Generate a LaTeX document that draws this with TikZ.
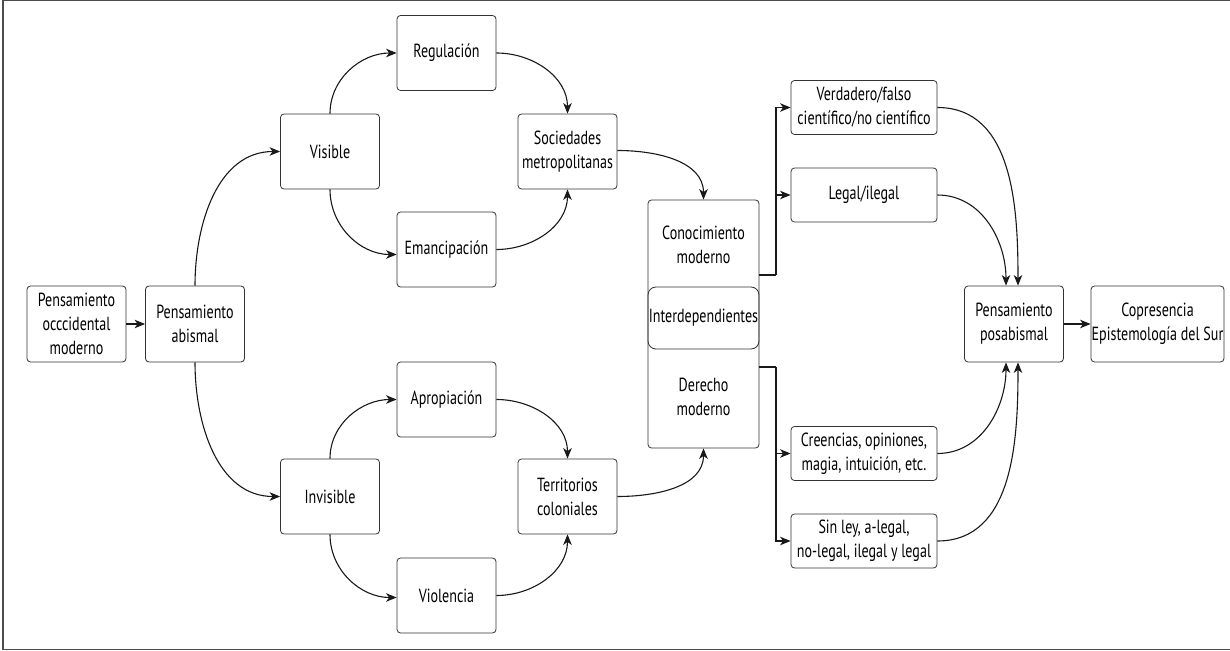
\documentclass[tikz,border=0pt]{standalone}
\usepackage{fontspec}
\setmainfont{PT Sans}[FakeStretch=0.74]
\usetikzlibrary{arrows.meta}
\begin{document}
\begin{tikzpicture}[x=1bp,y=-1bp,
  font=\fontsize{19bp}{24bp}\selectfont,
  box/.style={draw=black!80, line width=0.8bp, rounded corners=3.5bp,
    align=center, inner sep=0pt, minimum width=99bp, minimum height=76bp},
  wide/.style={box, minimum width=146bp, minimum height=54bp},
  link/.style={draw=black!90, line width=1.1bp,
    -{Stealth[length=10.5bp,width=8.5bp,inset=3bp]}},
  plain/.style={draw=black!90, line width=1.1bp}]
\useasboundingbox (0,0) rectangle (1230,651);
% outer frame
\draw[black!70, line width=1.3bp] (1231,0.8) -- (3,0.8) -- (3,649.4) -- (1231,649.4);

% left chain
\node[box] (occ) at (76.5,324) {Pensamiento\\occcidental\\moderno};
\node[box] (abi) at (195,324) {Pensamiento\\abismal};
\node[box, minimum height=75bp] (vis) at (330,151.5) {Visible};
\node[box, minimum height=75bp] (inv) at (330,496.5) {Invisible};
\node[box, minimum height=75bp] (reg) at (446.5,53) {Regulación};
\node[box, minimum height=75bp] (ema) at (446.5,249.5) {Emancipación};
\node[box, minimum height=75bp] (apr) at (446.5,399.5) {Apropiación};
\node[box, minimum height=75bp] (vio) at (446.5,595.5) {Violencia};
\node[box, minimum height=75bp] (soc) at (567.5,151.5) {Sociedades\\metropolitanas};
\node[box, minimum height=75bp] (ter) at (567.5,496.5) {Territorios\\coloniales};

% central block
\node[box, minimum width=111bp, minimum height=248bp] (mod) at (703.5,324) {};
\node[align=center] (con) at (703.5,245) {Conocimiento\\moderno};
\node[align=center] (der) at (703.5,397) {Derecho\\moderno};
\node[draw=black!80, line width=0.8bp, rounded corners=8bp, inner sep=0pt,
  minimum width=111bp, minimum height=62bp] (int) at (703.5,318) {Interdependientes};

% right column
\node[wide] (ver) at (864,107.5) {Verdadero/falso\\científico/no científico};
\node[wide] (leg) at (864,195) {Legal/ilegal};
\node[wide] (cre) at (864,453.5) {Creencias, opiniones,\\magia, intuición, etc.};
\node[wide] (sin) at (864,541) {Sin ley, a-legal,\\no-legal, ilegal y legal};
\node[box] (pos) at (1014,324) {Pensamiento\\posabismal};
\node[box, minimum width=133bp] (cop) at (1157.5,324) {Copresencia\\Epistemología del Sur};

% connectors
\draw[link] (occ) -- (abi);
\draw[link] (abi.north) to[out=90,in=180] (vis.west);
\draw[link] (abi.south) to[out=-90,in=180] (inv.west);
\draw[link] (vis.north) to[out=90,in=180] (reg.west);
\draw[link] (vis.south) to[out=-90,in=180] ([yshift=-5bp]ema.west);
\draw[link] (inv.north) to[out=90,in=180] (apr.west);
\draw[link] (inv.south) to[out=-90,in=180] ([yshift=-2bp]vio.west);
\draw[link] (reg.east) to[out=0,in=90] (soc.north);
\draw[link] (ema.east) to[out=0,in=-90] (soc.south);
\draw[link] (apr.east) to[out=0,in=90] (ter.north);
\draw[link] (vio.east) to[out=0,in=-90] (ter.south);
\draw[link] ([yshift=1bp]soc.east) to[out=0,in=90] (mod.north);
\draw[link] (ter.east) to[out=0,in=-90] (mod.south);

\coordinate (up) at (776,275);
\coordinate (lo) at (776,367);
\draw[plain] (mod.east |- up) -- (up);
\draw[link] (up) |- (ver.west);
\draw[link] (up) |- (leg.west);
\draw[plain] (mod.east |- lo) -- (lo);
\draw[link] (lo) |- (cre.west);
\draw[link] (lo) |- (sin.west);

\draw[link] (ver.east) to[out=0,in=90] ([xshift=4bp]pos.north);
\draw[link] (leg.east) to[out=0,in=90] ([xshift=-8bp]pos.north);
\draw[link] (cre.east) to[out=0,in=-90] ([xshift=-8bp]pos.south);
\draw[link] (sin.east) to[out=0,in=-90] ([xshift=4bp]pos.south);
\draw[link] (pos) -- (cop);
\end{tikzpicture}
\end{document}
